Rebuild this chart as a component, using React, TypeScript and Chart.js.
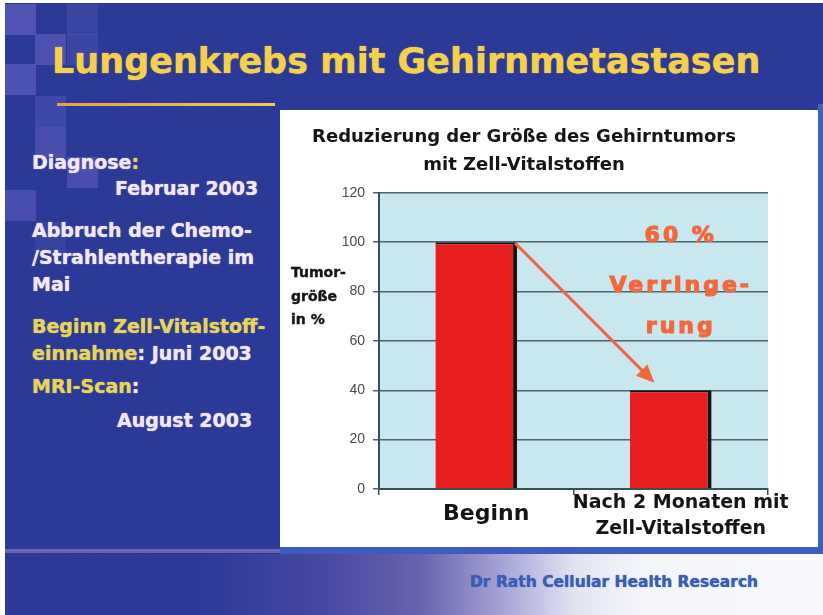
import React, { useEffect, useRef } from 'react';
import { Chart, registerables } from 'chart.js';

Chart.register(...registerables);

// ---- data ----
const CATEGORIES = [['Beginn'], ['Nach 2 Monaten mit', 'Zell-Vitalstoffen']];
const TUMOR_SIZE = [100, 40];
const Y_MIN = 0;
const Y_MAX = 120;
const Y_STEP = 20;
const CHART_TITLE = ['Reduzierung der Größe des Gehirntumors', 'mit Zell-Vitalstoffen'];
const Y_TITLE = ['Tumor-', 'größe', 'in %'];
const NOTE_LINES = ['60 %', 'Verringe-', 'rung'];
const NOTE_VALUES = [100, 80, 63];
const ARROW_END_VALUE = 43;

const FAMILY = "'DejaVu Sans', 'Liberation Sans', sans-serif";
const WHITE = '#F3E6F6';
const YELLOW = '#E8D45C';
const SLIDE_BLUE = '#2B3A97';

const plotBg = {
  id: 'plotBg',
  beforeDraw(chart: any) {
    const { ctx, chartArea: a } = chart;
    ctx.save();
    ctx.fillStyle = '#C9E7EF';
    ctx.fillRect(a.left, a.top, a.right - a.left, a.bottom - a.top);
    ctx.restore();
  },
};

const yTitle = {
  id: 'yTitle',
  afterDraw(chart: any) {
    const { ctx, chartArea: a } = chart;
    ctx.save();
    ctx.font = `bold 14px ${FAMILY}`;
    ctx.fillStyle = '#151515';
    ctx.strokeStyle = '#151515';
    ctx.lineWidth = 0.4;
    ctx.textAlign = 'left';
    ctx.textBaseline = 'middle';
    Y_TITLE.forEach((t, i) => {
      ctx.fillText(t, 11, a.top + 81 + i * 23.5);
      ctx.strokeText(t, 11, a.top + 81 + i * 23.5);
    });
    ctx.restore();
  },
};

const note = {
  id: 'note',
  afterDatasetsDraw(chart: any) {
    const { ctx } = chart;
    const meta = chart.getDatasetMeta(0);
    const b0 = meta.data[0];
    const b1 = meta.data[1];
    const ys = chart.scales.y;
    const color = '#F2683C';
    const sx = b0.x + b0.width / 2 - 2;
    const sy = b0.y + 1;
    const ex = b1.x - b1.width * 0.2;
    const ey = ys.getPixelForValue(ARROW_END_VALUE);
    const ang = Math.atan2(ey - sy, ex - sx);
    const head = 18;
    const hw = 8;
    const c = Math.cos(ang);
    const s = Math.sin(ang);
    ctx.save();
    ctx.strokeStyle = color;
    ctx.fillStyle = color;
    ctx.lineWidth = 3;
    ctx.beginPath();
    ctx.moveTo(sx, sy);
    ctx.lineTo(ex - c * head * 0.8, ey - s * head * 0.8);
    ctx.stroke();
    ctx.beginPath();
    ctx.moveTo(ex, ey);
    ctx.lineTo(ex - c * head - s * hw, ey - s * head + c * hw);
    ctx.lineTo(ex - c * head + s * hw, ey - s * head - c * hw);
    ctx.closePath();
    ctx.fill();

    ctx.font = `bold 22px ${FAMILY}`;
    (ctx as any).letterSpacing = '3px';
    ctx.textAlign = 'center';
    ctx.textBaseline = 'alphabetic';
    ctx.lineWidth = 1.2;
    const cx = b1.x + 10;
    NOTE_LINES.forEach((t, i) => {
      const y = ys.getPixelForValue(NOTE_VALUES[i]);
      ctx.fillText(t, cx, y);
      ctx.strokeText(t, cx, y);
    });
    ctx.restore();
  },
};

function TumorChart() {
  const ref = useRef<HTMLCanvasElement | null>(null);
  useEffect(() => {
    if (!ref.current) return;
    const chart = new Chart(ref.current, {
      type: 'bar',
      data: {
        labels: CATEGORIES as any,
        datasets: [
          {
            data: TUMOR_SIZE,
            backgroundColor: '#E81E1E',
            borderColor: '#141414',
            borderWidth: { top: 2, right: 4, bottom: 0, left: 0 },
            borderSkipped: false,
            barPercentage: 0.42,
            categoryPercentage: 1,
          } as any,
        ],
      },
      options: {
        animation: false,
        responsive: false,
        layout: { padding: { left: 0, right: 50, top: 0, bottom: 0 } },
        plugins: {
          legend: { display: false },
          tooltip: { enabled: false },
          title: {
            display: true,
            text: CHART_TITLE,
            color: '#151515',
            font: { family: FAMILY, size: 18, weight: 'bold', lineHeight: 1.55 },
            padding: { top: 13, bottom: 14 },
          },
        },
        scales: {
          x: {
            offset: true,
            grid: { drawOnChartArea: false, drawTicks: true, tickLength: 6, color: '#3A5058', lineWidth: 1.5 },
            border: { color: '#3A5058', width: 2 },
            ticks: {
              color: '#151515',
              padding: -5,
              labelOffset: 10,
              maxRotation: 0,
              autoSkip: false,
              font: (c: any) =>
                c.index === 0
                  ? { family: FAMILY, size: 22, weight: 'bold', lineHeight: 2.18 }
                  : { family: FAMILY, size: 19, weight: 'bold', lineHeight: 1.37 },
            },
            afterFit: (sc: any) => {
              sc.height = 58;
            },
          },
          y: {
            min: Y_MIN,
            max: Y_MAX,
            ticks: {
              stepSize: Y_STEP,
              color: '#4a4a4a',
              padding: 8,
              font: { family: "'Liberation Sans', Arial, sans-serif", size: 14 },
            },
            grid: { color: '#4A6670', lineWidth: 1.5, tickLength: 6 },
            border: { color: '#3A5058', width: 2 },
            afterFit: (sc: any) => {
              sc.width = 99;
            },
          },
        },
      } as any,
      plugins: [plotBg, yTitle, note],
    });
    return () => chart.destroy();
  }, []);
  return (
    <canvas
      ref={ref}
      width={538}
      height={437}
      style={{ position: 'absolute', left: 280, top: 110, width: 538, height: 437, display: 'block' }}
    />
  );
}

function Txt({ x, base, size = 19, color = WHITE, children }: any) {
  return (
    <div
      style={{
        position: 'absolute',
        left: x,
        top: base - 0.846 * size,
        fontFamily: FAMILY,
        fontWeight: 'bold',
        fontSize: size,
        lineHeight: 1,
        whiteSpace: 'nowrap',
        color,
        textShadow: '0 0 1px currentColor',
      }}
    >
      {children}
    </div>
  );
}

const SQUARES: [number, number, number][] = [
  [5, 4, 0.45],
  [67, 4, 0.18],
  [35, 34, 0.4],
  [67, 34, 0.2],
  [5, 64, 0.4],
  [35, 96, 0.25],
  [35, 127, 0.35],
  [67, 157, 0.35],
  [5, 190, 0.35],
  [35, 222, 0.15],
];

export default function App() {
  return (
    <div
      style={{
        position: 'absolute',
        left: 0,
        top: 0,
        width: 823,
        height: 615,
        overflow: 'hidden',
        background: '#ffffff',
      }}
    >
      <div style={{ position: 'absolute', left: 5, top: 3, width: 818, height: 553, background: SLIDE_BLUE }} />
      {SQUARES.map(([x, y, a], i) => (
        <div
          key={i}
          style={{
            position: 'absolute',
            left: x,
            top: y,
            width: 31,
            height: 31,
            background: `rgba(130,118,212,${a})`,
          }}
        />
      ))}
      <Txt x={52} base={74} size={35} color="#F5D04C">
        Lungenkrebs mit Gehirnmetastasen
      </Txt>
      <div
        style={{
          position: 'absolute',
          left: 57,
          top: 103,
          width: 218,
          height: 3,
          background: 'linear-gradient(to right, #E8A048, #F2C85A)',
        }}
      />

      <Txt x={32} base={169}>
        Diagnose<span style={{ color: YELLOW }}>:</span>
      </Txt>
      <Txt x={115} base={195}>Februar 2003</Txt>
      <Txt x={32} base={237}>Abbruch der Chemo-</Txt>
      <Txt x={32} base={264}>/Strahlentherapie im</Txt>
      <Txt x={32} base={291}>Mai</Txt>
      <Txt x={32} base={333} color={YELLOW}>
        Beginn Zell-Vitalstoff-
      </Txt>
      <Txt x={32} base={360} color={YELLOW}>
        einnahme<span style={{ color: WHITE }}>: Juni 2003</span>
      </Txt>
      <Txt x={32} base={393} color={YELLOW}>
        MRI-Scan<span style={{ color: WHITE }}>:</span>
      </Txt>
      <Txt x={117} base={427}>August 2003</Txt>

      <div style={{ position: 'absolute', left: 280, top: 110, width: 538, height: 437, background: '#FFFFFF' }} />
      <div style={{ position: 'absolute', left: 818, top: 104, width: 5, height: 452, background: '#3E62C2' }} />
      <div style={{ position: 'absolute', left: 280, top: 547, width: 543, height: 7, background: '#3D5CC0' }} />
      <div style={{ position: 'absolute', left: 5, top: 549, width: 275, height: 4, background: '#6A62B2' }} />
      <TumorChart />

      <div
        style={{
          position: 'absolute',
          left: 5,
          top: 554,
          width: 818,
          height: 61,
          background:
            'linear-gradient(to right, #2C3894 0px, #2E3A96 200px, #4A4AA2 330px, #6A66B0 420px, #A8A6D6 500px, #E2E4F2 570px, #F5F6FA 640px, #F7F8FB 100%)',
        }}
      />
      <Txt x={470} base={588} size={15.5} color="#3A5DB5">
        Dr Rath Cellular Health Research
      </Txt>
    </div>
  );
}
